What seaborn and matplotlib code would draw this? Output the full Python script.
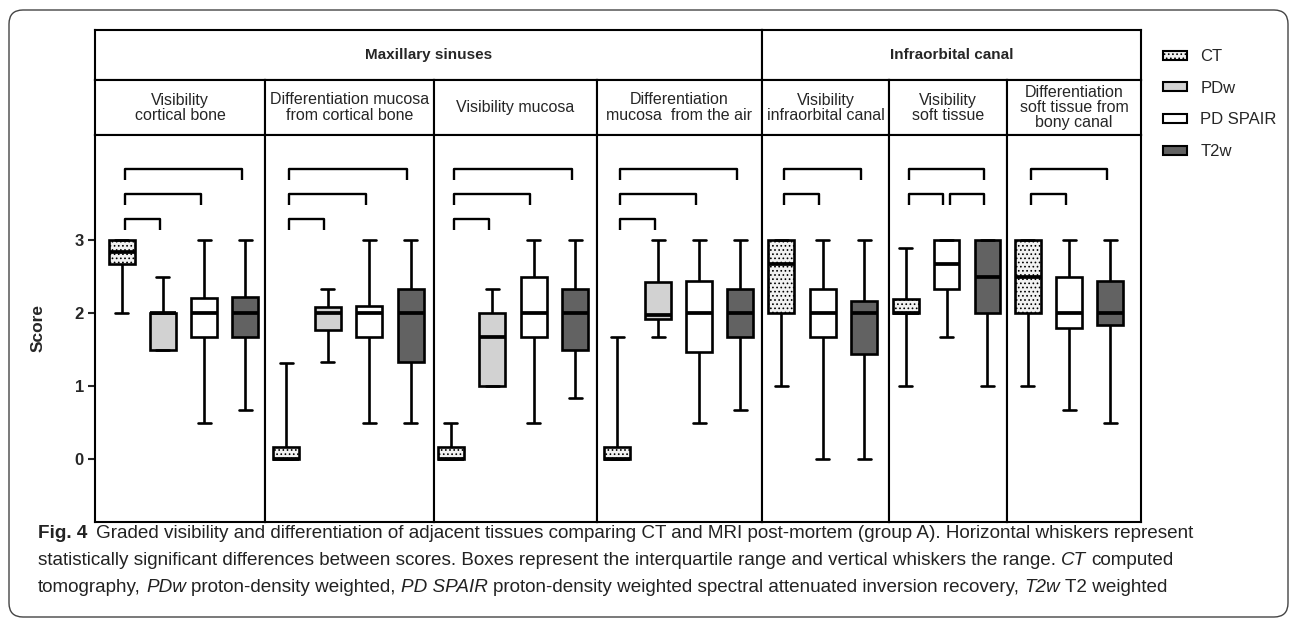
import matplotlib
matplotlib.use("Agg")
import matplotlib.pyplot as plt
import seaborn as sns
import pandas as pd
from matplotlib.patches import Patch, FancyBboxPatch
from matplotlib import font_manager, colors as mcolors

# ---- data ----
group_titles = ["Maxillary sinuses", "Infraorbital canal"]
panel_titles = [
    "Visibility\ncortical bone",
    "Differentiation mucosa\nfrom cortical bone",
    "Visibility mucosa",
    "Differentiation\nmucosa  from the air",
    "Visibility\ninfraorbital canal",
    "Visibility\nsoft tissue",
    "Differentiation\nsoft tissue from\nbony canal",
]
mods4 = ["CT", "PDw", "PD SPAIR", "T2w"]
mods3 = ["CT", "PD SPAIR", "T2w"]
panel_mods = [mods4, mods4, mods4, mods4, mods3, mods3, mods3]

box_min = [[2, 1.5, 0.5, 0.67], [0, 1.33, 0.5, 0.5], [0, 1, 0.5, 0.83], [0, 1.67, 0.5, 0.67],
           [1, 0, 0], [1, 1.67, 1], [1, 0.67, 0.5]]
box_q1 = [[2.67, 1.5, 1.67, 1.67], [0, 1.77, 1.67, 1.33], [0, 1, 1.67, 1.5], [0, 1.92, 1.46, 1.67],
          [2, 1.67, 1.44], [2, 2.33, 2], [2, 1.8, 1.83]]
box_med = [[2.83, 2, 2, 2], [0, 2, 2, 2], [0, 1.67, 2, 2], [0, 1.98, 2, 2],
           [2.67, 2, 2], [2, 2.67, 2.5], [2.5, 2, 2]]
box_q3 = [[3, 2, 2.2, 2.22], [0.17, 2.08, 2.1, 2.33], [0.17, 2, 2.5, 2.33], [0.17, 2.42, 2.44, 2.33],
          [3, 2.33, 2.17], [2.19, 3, 3], [3, 2.5, 2.44]]
box_max = [[3, 2.5, 3, 3], [1.31, 2.33, 3, 3], [0.5, 2.33, 3, 3], [1.67, 3, 3, 3],
           [3, 3, 3], [2.89, 3, 3], [3, 3, 3]]

# significance brackets: (box a, box b, level)
sig_pairs = [
    [(0, 3, 0), (0, 2, 1), (0, 1, 2)],
    [(0, 3, 0), (0, 2, 1), (0, 1, 2)],
    [(0, 3, 0), (0, 2, 1), (0, 1, 2)],
    [(0, 3, 0), (0, 2, 1), (0, 1, 2)],
    [(0, 2, 0), (0, 1, 1)],
    [(0, 2, 0), (0, 1, 1), (1, 2, 1)],
    [(0, 2, 0), (0, 1, 1)],
]
bracket_levels = [3.98, 3.63, 3.29]

palette = {"CT": "#f1f1f1", "PDw": "#d2d2d2", "PD SPAIR": "#ffffff", "T2w": "#626262"}

rows = []
for p in range(len(panel_mods)):
    for k, mod in enumerate(panel_mods[p]):
        for v in (box_min[p][k], box_q1[p][k], box_med[p][k], box_q3[p][k], box_max[p][k]):
            rows.append({"panel": p, "modality": mod, "score": v})
df = pd.DataFrame(rows)

# ---- layout ----
sns.set_style("white")
names = {f.name for f in font_manager.fontManager.ttflist}
plt.rcParams["font.family"] = ["Liberation Sans", "DejaVu Sans"]
cap_family = ["Liberation Sans Narrow", "Liberation Sans"] if "Liberation Sans Narrow" in names else ["Liberation Sans"]
cap_size = 12.5 if "Liberation Sans Narrow" in names else 13.55
plt.rcParams["hatch.color"] = "#8a8a8a"
plt.rcParams["hatch.linewidth"] = 0.7

W, H = 1295, 620
fig = plt.figure(figsize=(W / 100, H / 100), dpi=100)

def rect(x0, y0, x1, y1):
    return [x0 / W, 1 - y1 / H, (x1 - x0) / W, (y1 - y0) / H]

edges = [95, 265, 434, 597, 762, 889, 1007, 1141]
xlims = [(-0.65, 3.48), (-0.51, 3.56), (-0.41, 3.53), (-0.49, 3.53), (-0.46, 2.6), (-0.41, 2.48), (-0.51, 2.75)]

def frame(ax, lw=1.5):
    ax.set_xticks([])
    ax.set_yticks([])
    for s in ax.spines.values():
        s.set_visible(True)
        s.set_color("black")
        s.set_linewidth(lw)

# group header row
for g, (a, b) in enumerate([(0, 4), (4, 7)]):
    gax = fig.add_axes(rect(edges[a], 30, edges[b], 80))
    frame(gax)
    gax.text(0.5, 0.5, group_titles[g], ha="center", va="center", fontsize=11,
             fontweight="bold", transform=gax.transAxes)

for p in range(len(panel_mods)):
    hax = fig.add_axes(rect(edges[p], 80, edges[p + 1], 135))
    frame(hax)
    hax.text(0.5, 0.5, panel_titles[p], ha="center", va="center", fontsize=11.5,
             linespacing=1.0, transform=hax.transAxes)

    ax = fig.add_axes(rect(edges[p], 135, edges[p + 1], 522))
    sub = df[df["panel"] == p]
    sns.boxplot(data=sub, x="modality", y="score", hue="modality", order=panel_mods[p],
                hue_order=panel_mods[p], palette=palette, saturation=1, whis=(0, 100),
                width=0.63, linecolor="black", linewidth=1.9,
                medianprops={"linewidth": 2.7}, legend=False, ax=ax)
    for patch in ax.patches:
        if mcolors.to_hex(patch.get_facecolor()) == palette["CT"]:
            patch.set_hatch("....")
    for a, b, lev in sig_pairs[p]:
        y = bracket_levels[lev]
        ax.plot([a + 0.08, a + 0.08, b - 0.08, b - 0.08], [y - 0.15, y, y, y - 0.15],
                color="black", lw=1.7, solid_capstyle="butt")
    ax.set_xlim(*xlims[p])
    ax.set_ylim(-0.863, 4.44)
    frame(ax)
    ax.set_xlabel("")
    ax.set_ylabel("")
    if p == 0:
        ax.set_yticks([0, 1, 2, 3])
        ax.tick_params(axis="y", left=True, length=5, width=1.5, labelsize=12, pad=3)
        for lbl in ax.get_yticklabels():
            lbl.set_fontweight("bold")
        ax.set_ylabel("Score", fontsize=12.5, fontweight="bold", labelpad=21)

handles = [Patch(facecolor=palette[m], edgecolor="black", linewidth=1.5,
                 hatch="...." if m == "CT" else None, label=m) for m in mods4]
fig.legend(handles=handles, loc="upper left", bbox_to_anchor=(1148 / W, 1 - 34 / H),
           frameon=False, fontsize=12, handlelength=1.45, handleheight=0.45,
           handletextpad=0.8, labelspacing=1.0)

# outer rounded frame
fig.patches.append(FancyBboxPatch((9, 3), 1279, 607, boxstyle="round,pad=0,rounding_size=14",
                                  transform=None, fill=False, ec="#444444", lw=1))

# caption
caption = [
    [("Fig. 4", "b"), ("Graded visibility and differentiation of adjacent tissues comparing CT and MRI "
                       "post-mortem (group A). Horizontal whiskers represent", "n")],
    [("statistically significant differences between scores. Boxes represent the interquartile "
      "range and vertical whiskers the range.", "n"), ("CT", "i"), ("computed", "n")],
    [("tomography,", "n"), ("PDw", "i"), ("proton-density weighted,", "n"), ("PD SPAIR", "i"),
     ("proton-density weighted spectral attenuated inversion recovery,", "n"), ("T2w", "i"),
     ("T2 weighted", "n")],
]
renderer = fig.canvas.get_renderer()

def text_w(s, **kw):
    t = fig.text(0, 0, s, fontsize=cap_size, family=cap_family, **kw)
    w = t.get_window_extent(renderer).width
    t.remove()
    return w

space_w = text_w("a a") - text_w("aa")
for i, line in enumerate(caption):
    x = 38
    y = 534 + i * 26.5
    for s, style in line:
        t = fig.text(x / W, 1 - y / H, s, fontsize=cap_size, family=cap_family,
                     fontweight="bold" if style == "b" else "normal",
                     fontstyle="italic" if style == "i" else "normal",
                     va="center", ha="left", color="#222222")
        x = t.get_window_extent(renderer).x1 + space_w * (1.6 if style == "b" else 1)

fig.savefig("out.png", dpi=100)
